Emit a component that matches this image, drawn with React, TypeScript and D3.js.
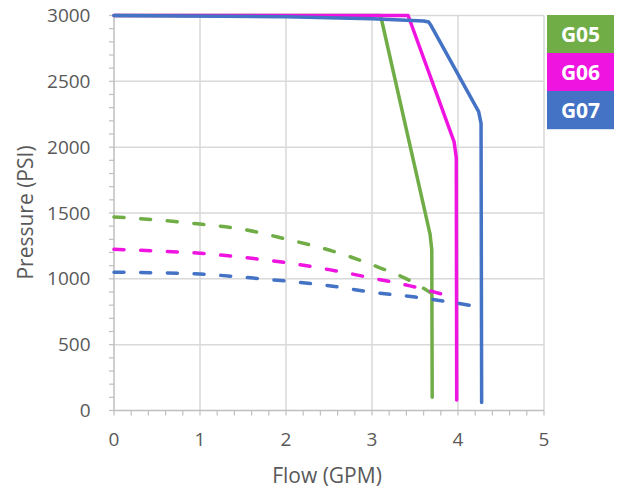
import React from "react";
import * as d3 from "d3";

const flowTicks = [0, 1, 2, 3, 4, 5];
const pressureTicks = [0, 500, 1000, 1500, 2000, 2500, 3000];
const seriesNames = ["G05", "G06", "G07"];
const seriesColors = ["#70ad47", "#f014e1", "#4472c4"];

// Solid (pump) curves
const g05SolidFlow = [0, 3.1, 3.675, 3.695, 3.7];
const g05SolidPress = [3000, 3000, 1340, 1220, 100];
const g06SolidFlow = [0, 3.42, 3.955, 3.98, 3.985];
const g06SolidPress = [3000, 3000, 2040, 1920, 80];
const g07SolidFlow = [0, 2, 3, 3.6, 3.66, 3.69, 4.24, 4.268, 4.275];
const g07SolidPress = [3000, 2990, 2975, 2958, 2950, 2920, 2270, 2180, 60];

// Dashed (system) curves
const g05DashFlow = [0, 0.5, 1, 1.5, 2, 2.5, 3, 3.5, 3.68];
const g05DashPress = [1470, 1447, 1416, 1376, 1302, 1219, 1107, 966, 895];
const g06DashFlow = [0, 0.5, 1, 1.5, 2, 2.5, 3, 3.5, 3.85];
const g06DashPress = [1224, 1212, 1194, 1163, 1123, 1070, 1006, 938, 877];
const g07DashFlow = [0, 0.5, 1, 1.5, 2, 2.5, 3, 3.5, 4, 4.25];
const g07DashPress = [1050, 1046, 1037, 1012, 983, 948, 898, 862, 814, 786];

const W = 621;
const H = 489;

export default function App() {
  const x = d3.scaleLinear().domain([0, 5]).range([114, 544]);
  const y = d3.scaleLinear().domain([0, 3000]).range([410.5, 15.5]);

  const solidLine = d3
    .line<[number, number]>()
    .x((d) => x(d[0]))
    .y((d) => y(d[1]))
    .curve(d3.curveLinear);
  const dashLine = d3
    .line<[number, number]>()
    .x((d) => x(d[0]))
    .y((d) => y(d[1]))
    .curve(d3.curveMonotoneX);

  const zip = (a: number[], b: number[]) => a.map((v, i) => [v, b[i]] as [number, number]);

  const solids = [
    zip(g05SolidFlow, g05SolidPress),
    zip(g06SolidFlow, g06SolidPress),
    zip(g07SolidFlow, g07SolidPress),
  ];
  const dashes = [
    zip(g05DashFlow, g05DashPress),
    zip(g06DashFlow, g06DashPress),
    zip(g07DashFlow, g07DashPress),
  ];

  const minorX = d3.range(0, 5.0001, 0.2);
  const minorY = d3.range(0, 3000.1, 100);
  const font = "'Open Sans', sans-serif";

  return (
    <svg
      width={W}
      height={H}
      style={{ position: "absolute", left: 0, top: 0, background: "#fff" }}
    >
      {/* grid */}
      {flowTicks.slice(1).map((t) => (
        <line key={"gx" + t} x1={x(t)} x2={x(t)} y1={y(3000)} y2={y(0)} stroke="#d9d9d9" strokeWidth={1.5} />
      ))}
      {pressureTicks.slice(1).map((t) => (
        <line key={"gy" + t} x1={x(0)} x2={x(5)} y1={y(t)} y2={y(t)} stroke="#d9d9d9" strokeWidth={1.5} />
      ))}
      {/* axes */}
      <line x1={x(0)} x2={x(0)} y1={y(3000)} y2={y(0)} stroke="#bfbfbf" strokeWidth={1.5} />
      <line x1={x(0)} x2={x(5)} y1={y(0)} y2={y(0)} stroke="#bfbfbf" strokeWidth={1.5} />
      {minorX.map((t, i) => (
        <line key={"mx" + i} x1={x(t)} x2={x(t)} y1={y(0)} y2={y(0) + 5} stroke="#bfbfbf" strokeWidth={1.2} />
      ))}
      {minorY.map((t, i) => (
        <line key={"my" + i} x1={x(0) - 5} x2={x(0)} y1={y(t)} y2={y(t)} stroke="#bfbfbf" strokeWidth={1.2} />
      ))}
      {/* tick labels */}
      {pressureTicks.map((t) => (
        <text key={"ly" + t} x={90.5} y={y(t) + 6.5} textAnchor="end" fontFamily={font} fontSize={19} fill="#595959">
          {t}
        </text>
      ))}
      {flowTicks.map((t) => (
        <text key={"lx" + t} x={x(t)} y={446} textAnchor="middle" fontFamily={font} fontSize={19} fill="#595959">
          {t}
        </text>
      ))}
      {/* axis titles */}
      <text x={327} y={482.5} textAnchor="middle" fontFamily={font} fontSize={21} fill="#595959">
        Flow (GPM)
      </text>
      <text
        transform={`translate(33,212.5) rotate(-90)`}
        textAnchor="middle"
        fontFamily={font}
        fontSize={21}
        fill="#595959"
      >
        Pressure (PSI)
      </text>
      {/* solid curves */}
      {solids.map((s, i) => (
        <path key={"s" + i} d={solidLine(s) || ""} fill="none" stroke={seriesColors[i]} strokeWidth={3.5} strokeLinecap="round" strokeLinejoin="round" />
      ))}
      {/* dashed curves */}
      {dashes.map((s, i) => (
        <path
          key={"d" + i}
          d={dashLine(s) || ""}
          fill="none"
          stroke={seriesColors[i]}
          strokeWidth={3.5}
          strokeLinecap="round"
          strokeDasharray="10 16.7"
        />
      ))}
      {/* legend */}
      {seriesNames.map((n, i) => (
        <g key={"lg" + n}>
          <rect x={547} y={15 + i * 38} width={67} height={38.2} fill={seriesColors[i]} />
          <text
            x={580.5}
            y={15 + i * 38 + 27}
            textAnchor="middle"
            fontFamily={font}
            fontWeight="bold"
            fontSize={21}
            fill="#ffffff"
          >
            {n}
          </text>
        </g>
      ))}
    </svg>
  );
}
